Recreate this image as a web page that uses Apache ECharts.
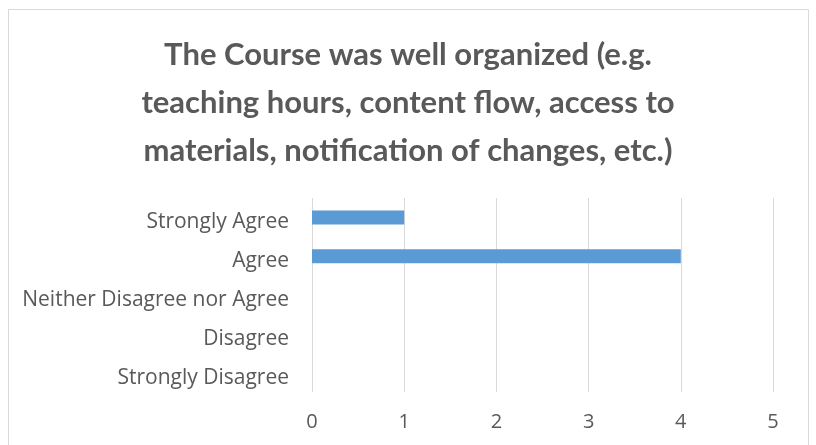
<!DOCTYPE html>
<html>
<head>
<meta charset="utf-8">
<script src="https://cdn.jsdelivr.net/npm/echarts@6/dist/echarts.min.js"></script>
<style>
	html, body { margin: 0; padding: 0; background: #fff; }
	#main { width: 816px; height: 445px; }
</style>
</head>
<body>
<div id="main"></div>
<script>
// answers, listed top to bottom as in the chart
var categories = ['Strongly Agree', 'Agree', 'Neither Disagree nor Agree', 'Disagree', 'Strongly Disagree'];
var counts = [1, 4, 0, 0, 0];
var xTicks = [0, 1, 2, 3, 4, 5];
var titleText = 'The Course was well organized (e.g.\nteaching hours, content flow, access to\nmaterials, notification of changes, etc.)';

var myChart = echarts.init(document.getElementById('main'));
var option = {
	animation: false,
	textStyle: { fontFamily: 'Open Sans' },
	title: {
		text: titleText,
		left: 'center',
		top: 26,
		textStyle: {
			fontFamily: 'Lato',
			fontSize: 31,
			fontWeight: 'bold',
			color: '#595959',
			lineHeight: 48
		}
	},
	graphic: [{
		type: 'rect',
		shape: { x: 8.5, y: 9.5, width: 800, height: 460 },
		style: { fill: 'none', stroke: '#d9d9d9', lineWidth: 1 },
		silent: true
	}],
	grid: { left: 312, right: 43, top: 198, bottom: 53, containLabel: false },
	xAxis: {
		type: 'value',
		min: xTicks[0],
		max: xTicks[xTicks.length - 1],
		interval: 1,
		axisLine: { show: false },
		axisTick: { show: false },
		axisLabel: { color: '#595959', fontFamily: 'Open Sans', fontSize: 20, margin: 20 },
		splitLine: { lineStyle: { color: '#d9d9d9', width: 1 } }
	},
	yAxis: {
		type: 'category',
		inverse: true,
		data: categories,
		axisLine: { show: false },
		axisTick: { show: false },
		axisLabel: {
			margin: 23,
			verticalAlign: 'middle',
			// text sits a little below the bar centre in the original
			formatter: function(val) {
				return '{c|' + val + '}';
			},
			rich: {
				c: { color: '#595959', fontFamily: 'Open Sans', fontSize: 21, lineHeight: 21, padding: [10, 0, 0, 0] }
			}
		}
	},
	series: [{
		type: 'bar',
		data: counts,
		barWidth: 14,
		itemStyle: { color: '#5b9bd5' }
	}]
};
myChart.setOption(option);
</script>
</body>
</html>
